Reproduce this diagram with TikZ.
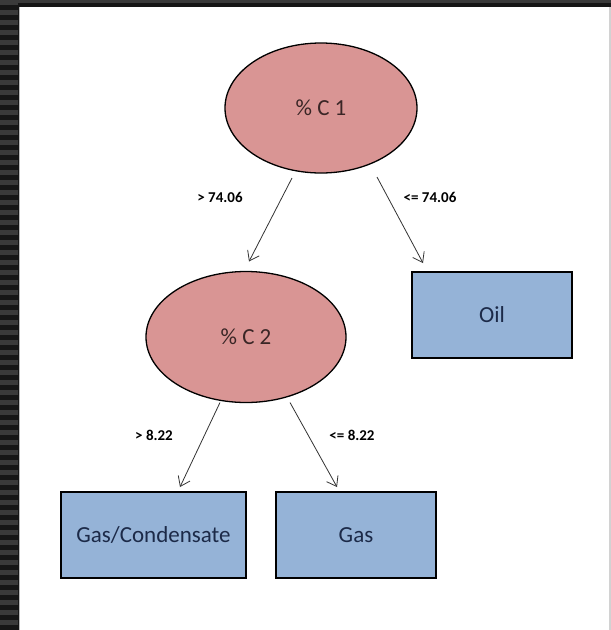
\documentclass[tikz,border=0pt]{standalone}
\usepackage{fontspec}
\setmainfont{Carlito}
\usetikzlibrary{shapes.geometric,arrows.meta,calc}
\definecolor{ellfill}{HTML}{D99594}
\definecolor{boxfill}{HTML}{95B3D7}
\definecolor{elltext}{HTML}{3A2626}
\definecolor{boxtext}{HTML}{1C2A48}
\definecolor{framedark}{HTML}{161616}
\definecolor{framelight}{HTML}{3A3A3A}
\begin{document}
\begin{tikzpicture}[x=1pt,y=-1pt,
  ell/.style={ellipse, draw=black, line width=1.3pt, fill=ellfill, inner sep=0pt, outer sep=0pt,
    text=elltext, font=\fontsize{23}{26}\selectfont},
  leaf/.style={rectangle, draw=black, line width=1.6pt, fill=boxfill, inner sep=0pt, outer sep=0pt,
    minimum height=86pt, text=boxtext, font=\fontsize{23}{26}\selectfont},
  lbl/.style={font=\bfseries\fontsize{15}{18}\selectfont, text=black, inner sep=0pt},
  arr/.style={-{Straight Barb[length=9pt,width=13pt]}, line width=0.8pt, draw=black!80}]
\useasboundingbox (0,0) rectangle (611,630);
% frame
\fill[framedark] (0,0) rectangle (611,630);
\foreach \i in {0,...,63} \fill[framelight] (0,\i*10) rectangle (18,\i*10+5);
\fill[framelight] (0,0) rectangle (611,3);
\fill[white] (19,7) rectangle (609,630);
\draw[gray!55, line width=1pt] (19.5,7) -- (19.5,630);
\fill[gray!35] (609,7) rectangle (611,630);
% nodes
\node[ell, minimum width=192pt, minimum height=130pt] (c1) at (321,108) {\% C 1};
\node[ell, minimum width=200pt, minimum height=131pt] (c2) at (246,337) {\% C 2};
\node[leaf, minimum width=160pt] (oil) at (492,315) {Oil};
\node[leaf, minimum width=185pt] (gc) at (153.5,535) {Gas/Condensate};
\node[leaf, minimum width=160pt] (gas) at (356,535) {Gas};
% connector ends tied to nodes
\path (c1.south) ++(-29,5) coordinate (a1s);
\path (c2.north) ++(3,-10) coordinate (a1e);
\path (c1.south) ++(56,4) coordinate (a2s);
\path (oil.north) ++(-69,-9) coordinate (a2e);
\path (c2.south) ++(-26,0) coordinate (a3s);
\path (gc.north) ++(26.5,-5) coordinate (a3e);
\path (c2.south) ++(44,0) coordinate (a4s);
\path (gas.north) ++(-19,-5) coordinate (a4e);
\draw[arr] (a1s) -- (a1e);
\draw[arr] (a2s) -- (a2e);
\draw[arr] (a3s) -- (a3e);
\draw[arr] (a4s) -- (a4e);
% labels
\node[lbl] (l1) at (220,197) {> 74.06};
\node[lbl] (l2) at (430,197) {<= 74.06};
\node[lbl] (l3) at (154,435) {> 8.22};
\node[lbl] (l4) at (352,435) {<= 8.22};
\end{tikzpicture}
\end{document}
